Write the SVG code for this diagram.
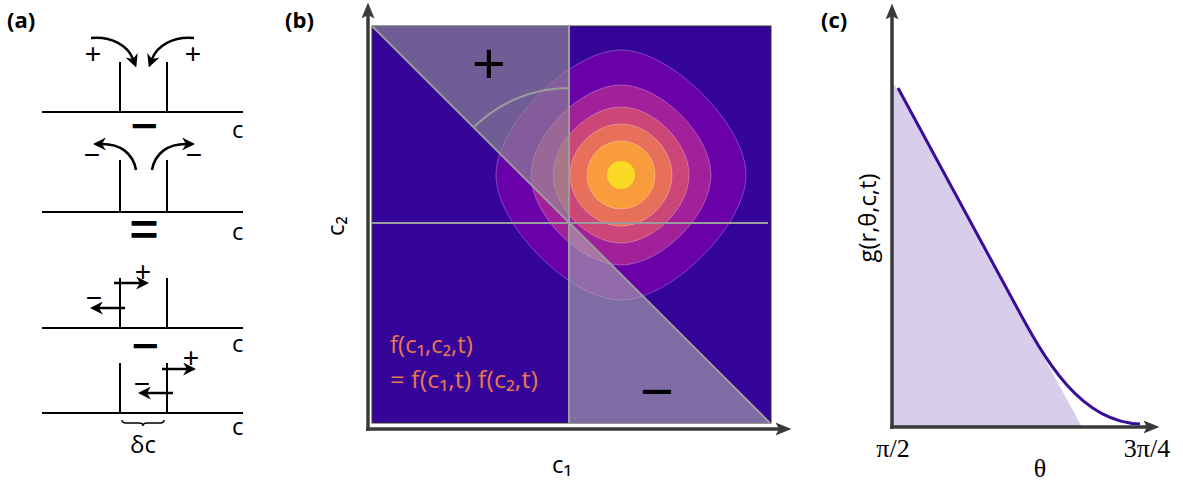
<svg xmlns="http://www.w3.org/2000/svg" width="1183" height="482" viewBox="0 0 1183 482">
<style>
.ln{stroke:#000;stroke-width:2;fill:none}
.arr{stroke:#000;stroke-width:2.5;fill:none;marker-end:url(#ah)}
.hs{font-family:"Open Sans","Noto Sans",sans-serif}
.pl{font-family:"Liberation Sans",Arial,sans-serif;font-size:28px;fill:#000;text-anchor:middle}
.big{font-family:"Liberation Sans",Arial,sans-serif;font-weight:bold;fill:#000;text-anchor:middle}
.bb{font-family:"Liberation Sans",Arial,sans-serif;font-size:58px;fill:#000;text-anchor:middle}
.lab{font-family:"Open Sans","Noto Sans",sans-serif;font-weight:bold;font-size:22px;fill:#000}
.cl{font-family:"Open Sans","Noto Sans",sans-serif;font-size:24px;fill:#000}
.gl{stroke:#9c9c9c;stroke-width:2;fill:none}
.ax{stroke:#3a3a3a;stroke-width:3.5;fill:none;marker-end:url(#axh)}
.ct{stroke:rgba(255,255,255,0.35);stroke-width:0.8}
.ser{font-family:"Liberation Serif","Times New Roman",serif;font-size:26px;fill:#000;text-anchor:middle}
</style>
<defs>
<marker id="ah" viewBox="0 0 10 10" refX="3" refY="5" markerWidth="13" markerHeight="13" markerUnits="userSpaceOnUse" orient="auto">
<path d="M0,0 L10,5 L0,10 L3,5 z" fill="#000"/>
</marker>
<marker id="axh" viewBox="0 0 16 13" refX="3.5" refY="6.5" markerWidth="16" markerHeight="13" markerUnits="userSpaceOnUse" orient="auto">
<path d="M0,0 L16,6.5 L0,13 L3.5,6.5 z" fill="#3a3a3a"/>
</marker>
</defs>
<rect width="1183" height="482" fill="#fff"/>

<g id="panel-a">
<text class="lab" x="7" y="28">(a)</text>
<g id="a-row1">
<path class="ln" d="M42,112 H243 M120,112 V62 M167,112 V62"/>
<text class="pl" x="93" y="63">+</text>
<text class="pl" x="193" y="63">+</text>
<text class="cl" x="232" y="138">c</text>
</g>
<text class="big" x="144" y="138.5" font-size="38" textLength="27" lengthAdjust="spacingAndGlyphs">−</text>
<g id="a-row2">
<path class="ln" d="M42,212 H243 M120,212 V160 M167,212 V160"/>
<text class="pl" x="92" y="164">−</text>
<text class="pl" x="194" y="164">−</text>
<text class="cl" x="232" y="240">c</text>
</g>
<text class="big" x="144" y="244.5" font-size="44" textLength="29" lengthAdjust="spacingAndGlyphs">=</text>
<g id="a-row3">
<path class="ln" d="M42,328 H243 M120,328 V278 M167,328 V278"/>
<text class="pl" x="143" y="281">+</text>
<text class="pl" x="94" y="307">−</text>
<text class="cl" x="232" y="352">c</text>
</g>
<text class="big" x="145" y="358.5" font-size="38" textLength="27" lengthAdjust="spacingAndGlyphs">−</text>
<g id="a-row4">
<path class="ln" d="M42,413 H243 M120,413 V363 M167,413 V363"/>
<text class="pl" x="191" y="367">+</text>
<text class="pl" x="142" y="393">−</text>
<text class="cl" x="232" y="435">c</text>
<path d="M122,420 q0,3 4,3 h13 q4,0 4,3 q0,-3 4,-3 h13 q4,0 4,-3" fill="none" stroke="#000" stroke-width="1.5"/>
<text class="cl" x="143" y="453" text-anchor="middle">δc</text>
</g>
<g id="a-connectors">
<path class="arr" d="M91,38 C112,36 128,46 133,59"/>
<path class="arr" d="M194,38 C173,36 157,46 152,59"/>
<path class="arr" d="M136,170 C133,153 120,144 102,144"/>
<path class="arr" d="M152,170 C155,153 168,144 186,144"/>
<path class="arr" d="M114,283 L140,283"/>
<path class="arr" d="M125,308 L99,308"/>
<path class="arr" d="M162,369 L187,369"/>
<path class="arr" d="M173,393 L147,393"/>
</g>
</g>

<g id="panel-b">
<text class="lab" x="285" y="28">(b)</text>
<rect x="372" y="26" width="399" height="397" fill="#350498" stroke="#333" stroke-width="1"/>
<g id="contours" class="ct">
<path fill="#6A00A8" d="M746,175 C746,125 671,50 621,50 C571,50 496,125 496,175 C496,225 571,300 621,300 C671,300 746,225 746,175 Z"/>
<path fill="#A2219B" d="M711,175 C711,135 661,85 621,85 C581,85 531,135 531,175 C531,215 581,265 621,265 C661,265 711,215 711,175 Z"/>
<path fill="#CC4778" d="M689,175 C689,142.4 653.6,107 621,107 C588.4,107 553,142.4 553,175 C553,207.6 588.4,243 621,243 C653.6,243 689,207.6 689,175 Z"/>
<path fill="#E8705A" d="M672,175 C672,148.5 647.5,124 621,124 C594.5,124 570,148.5 570,175 C570,201.5 594.5,226 621,226 C647.5,226 672,201.5 672,175 Z"/>
<circle fill="#F99C3C" cx="621" cy="175" r="34"/>
<circle fill="#FADA24" cx="621" cy="175" r="14" stroke="none"/>
</g>
<polygon points="372,26 569,26 569,223" fill="#949494" fill-opacity="0.62"/>
<polygon points="569,223 569,423 770,423" fill="#ADADAD" fill-opacity="0.62"/>
<g id="b-lines">
<path class="gl" d="M569,26 V423 M372,223 H768 M372,26 L770,423"/>
<path class="gl" d="M569,88 A135,135 0 0 0 473.5,127.5"/>
</g>
<text class="bb" x="489" y="83">+</text>
<text class="bb" x="657" y="411">−</text>
<text class="hs" x="390" y="353" font-size="24" fill="#E8774F">f(c₁,c₂,t)</text>
<text class="hs" x="390" y="388" font-size="24" fill="#E8774F" textLength="148" lengthAdjust="spacingAndGlyphs">= f(c₁,t) f(c₂,t)</text>
<g id="b-axes">
<line class="ax" x1="368" y1="431" x2="368" y2="15"/>
<line class="ax" x1="366" y1="429" x2="779" y2="429"/>
</g>
<text class="cl" x="562" y="473" text-anchor="middle" font-size="26">c₁</text>
<text class="cl" transform="translate(344,226) rotate(-90)" text-anchor="middle" font-size="25">c₂</text>
</g>

<g id="panel-c">
<text class="lab" x="821" y="28">(c)</text>
<polygon points="892,80 892,427 1082,427" fill="#D8CEEB"/>
<path d="M898,88 L1015,304 C1045,360 1080,422 1140,424" fill="none" stroke="#3A0C9C" stroke-width="3"/>
<g id="c-axes">
<line class="ax" x1="892" y1="429" x2="892" y2="16"/>
<line class="ax" x1="890" y1="427" x2="1147" y2="427"/>
</g>
<text class="cl" transform="translate(876,218) rotate(-90)" text-anchor="middle" font-size="24" textLength="89" lengthAdjust="spacingAndGlyphs">g(r,θ,c,t)</text>
<text class="ser" x="893" y="457">π/2</text>
<text class="ser" x="1147" y="457">3π/4</text>
<text class="ser" x="1040" y="477">θ</text>
</g>
</svg>
